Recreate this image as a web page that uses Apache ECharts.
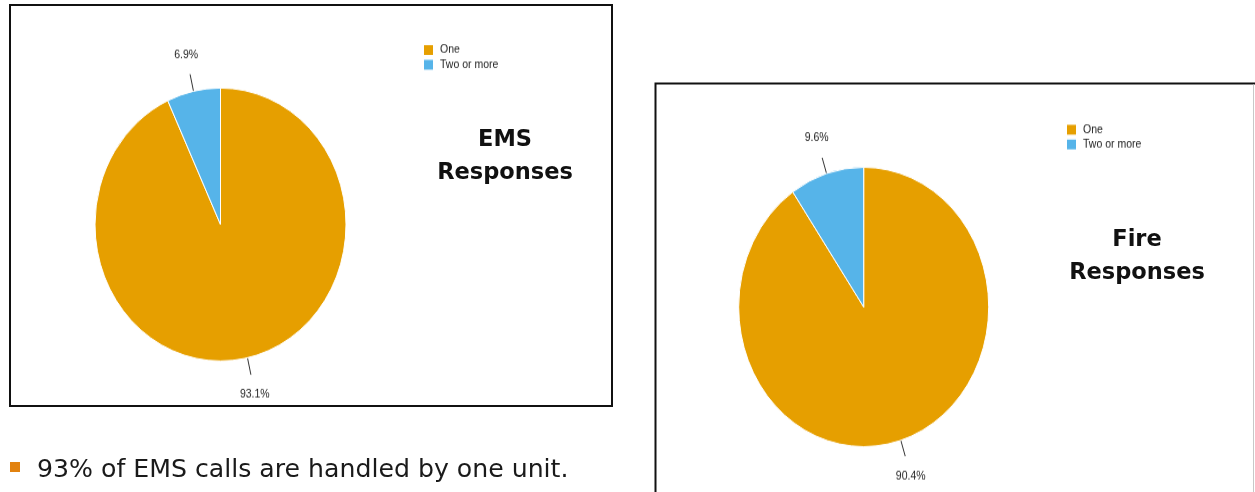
<!DOCTYPE html>
<html>
<head>
<meta charset="utf-8">
<title>EMS and Fire Responses — units per call</title>
<script src="https://cdn.jsdelivr.net/npm/echarts@6/dist/echarts.min.js"></script>
<style>
  html, body { margin: 0; padding: 0; background: #ffffff; }
  #stage { position: relative; width: 1255px; height: 492px; overflow: hidden; }
  #page { position: absolute; left: 0; top: 0; width: 1255px; height: 492px; }
  .pie { position: absolute; transform-origin: 0 0; }
  #emsPie { left: 11px; top: 6px; width: 600px; height: 400px; }
  #firePie { left: 656px; top: 84px; width: 599px; height: 370px; }
</style>
</head>
<body>
<div id="stage">
  <div id="page"></div>
  <div id="emsPie" class="pie"></div>
  <div id="firePie" class="pie"></div>
</div>
<script>
// Units dispatched per call
const categories = ['One', 'Two or more'];
const emsShares = [93.1, 6.9];
const fireShares = [90.4, 9.6];
const sliceColors = ['#E69F00', '#56B4E9'];

const emsTitle = 'EMS\nResponses';
const fireTitle = 'Fire\nResponses';
const bulletText = '93% of EMS calls are handled by one unit.';

// The pies are drawn slightly taller than wide: each pie canvas is stretched vertically.
const EMS_STRETCH = 1.0876;
const FIRE_STRETCH = 1.1176;

function pieOption(shares, stretch, center, radius, legendPos, lineLen, labelGap) {
  const data = categories.map((name, i) => ({
    name: name,
    value: shares[i],
    itemStyle: { color: sliceColors[i] }
  }));
  return {
    animation: false,
    legend: {
      orient: 'vertical',
      left: legendPos[0],
      top: legendPos[1],
      icon: 'rect',
      itemWidth: 11,
      itemHeight: 12 / stretch,
      itemGap: 0.5,
      padding: 0,
      selectedMode: false,
      data: categories,
      textStyle: {
        fontFamily: 'Liberation Sans, Arial, sans-serif',
        fontSize: 10.5,
        color: '#222222',
        lineHeight: 11 / stretch,
        padding: [0, 0, 0, 1]
      }
    },
    series: [{
      type: 'pie',
      center: center,
      radius: radius,
      startAngle: 90,
      clockwise: true,
      avoidLabelOverlap: false,
      silent: true,
      itemStyle: { borderColor: '#ffffff', borderWidth: 1 },
      label: {
        show: true,
        position: 'outside',
        fontFamily: 'Liberation Sans, Arial, sans-serif',
        fontSize: 10.5,
        color: '#222222',
        formatter: p => p.value.toFixed(1) + '%'
      },
      labelLine: {
        show: true,
        length: lineLen,
        length2: 0,
        smooth: false,
        lineStyle: { color: '#333333', width: 1 }
      },
      labelLayout: function (params) {
        const pts = params.labelLinePoints;
        if (!pts) return {};
        const dx = pts[1][0] - pts[0][0];
        const dy = pts[1][1] - pts[0][1];
        const len = Math.sqrt(dx * dx + dy * dy) || 1;
        return {
          x: pts[1][0] + dx / len * labelGap,
          y: pts[1][1] + dy / len * labelGap,
          align: 'center',
          verticalAlign: 'middle',
          labelLinePoints: pts.map(p => [p[0], p[1]])
        };
      },
      data: data
    }]
  };
}

// Frames, panel titles and the bullet note
const page = echarts.init(document.getElementById('page'), null, { renderer: 'canvas' });
page.setOption({
  animation: false,
  graphic: [
    {
      type: 'rect',
      shape: { x: 10, y: 5, width: 602, height: 401 },
      style: { fill: 'none', stroke: '#111111', lineWidth: 2 }
    },
    {
      type: 'polyline',
      shape: { points: [[655.5, 495], [655.5, 83.5], [1256, 83.5]] },
      style: { fill: 'none', stroke: '#111111', lineWidth: 2 }
    },
    {
      type: 'line',
      shape: { x1: 1253.5, y1: 84.5, x2: 1253.5, y2: 495 },
      style: { stroke: '#c8c8c8', lineWidth: 1 }
    },
    {
      type: 'text',
      x: 505, y: 156.5,
      style: {
        text: emsTitle,
        font: 'bold 22.5px "DejaVu Sans", sans-serif',
        fill: '#111111',
        align: 'center',
        verticalAlign: 'middle',
        lineHeight: 33
      }
    },
    {
      type: 'text',
      x: 1137, y: 256.5,
      style: {
        text: fireTitle,
        font: 'bold 22.5px "DejaVu Sans", sans-serif',
        fill: '#111111',
        align: 'center',
        verticalAlign: 'middle',
        lineHeight: 33
      }
    },
    {
      type: 'rect',
      shape: { x: 10, y: 462, width: 10, height: 10 },
      style: { fill: '#E2820F' }
    },
    {
      type: 'text',
      x: 37, y: 470,
      style: {
        text: bulletText,
        font: '25.2px "DejaVu Sans", sans-serif',
        fill: '#1a1a1a',
        align: 'left',
        verticalAlign: 'middle'
      }
    }
  ]
});

const emsEl = document.getElementById('emsPie');
emsEl.style.transform = 'scaleY(' + EMS_STRETCH + ')';
const emsChart = echarts.init(emsEl, null, { renderer: 'canvas' });
emsChart.setOption(pieOption(emsShares, EMS_STRETCH, [209.5, 200.9], 125.5, [411, 34], 16, 18));

const fireEl = document.getElementById('firePie');
fireEl.style.transform = 'scaleY(' + FIRE_STRETCH + ')';
const fireChart = echarts.init(fireEl, null, { renderer: 'canvas' });
fireChart.setOption(pieOption(fireShares, FIRE_STRETCH, [207.7, 199.5], 125, [409, 34.6], 14.8, 18.5));
</script>
</body>
</html>
